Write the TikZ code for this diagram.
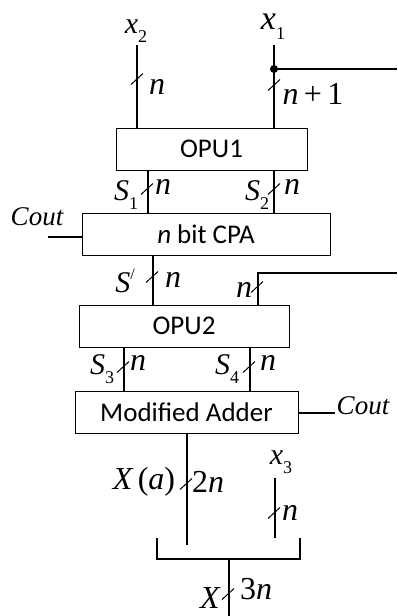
\documentclass[tikz,border=0pt]{standalone}
\usepackage{fontspec}
\setmainfont{Liberation Serif}
\newfontfamily\boxfont{Carlito}
\tikzset{
  blk/.style={draw, line width=1pt, inner sep=0pt, minimum height=42, font=\boxfont\fontsize{27}{30}\selectfont},
  wire/.style={line width=1.2pt},
  lab/.style={inner sep=0pt, font=\fontsize{32}{34}\selectfont\itshape},
  slab/.style={inner sep=0pt, font=\fontsize{30}{32}\selectfont\itshape},
  xlab/.style={inner sep=0pt, font=\fontsize{34}{36}\selectfont\itshape},
  clab/.style={inner sep=0pt, font=\fontsize{27}{29}\selectfont\itshape},
  bus/.style={line width=1pt}
}
\newcommand\busmark[1]{\draw[bus] (#1) ++(-6,-5.5) -- ++(12,11);}
\newcommand\sub[1]{\raisebox{-0.3em}{\fontsize{18}{18}\selectfont\upshape #1}}
\begin{document}
\begin{tikzpicture}[x=1pt,y=1pt]
\useasboundingbox (0,0) rectangle (397,-616);
% blocks
\node[blk, minimum width=191] (opu1) at (211.5,-149) {OPU1};
\node[blk, minimum width=248] (cpa) at (206,-234) {\textit{n} bit CPA};
\node[blk, minimum width=210] (opu2) at (184,-326) {OPU2};
\node[blk, minimum width=223] (ma) at (186.5,-412) {Modified Adder};
% coordinates
\coordinate (x2t) at (137,-45);
\coordinate (x1t) at (274,-45);
\coordinate (dot) at (274,-69);
\coordinate (x1r) at (397,-69);
\coordinate (s1) at (148,0);
\coordinate (s2) at (274,0);
\coordinate (sp) at (153,0);
\coordinate (rin) at (397,-273);
\coordinate (rc) at (258,-273);
\coordinate (s3) at (124,0);
\coordinate (s4) at (250,0);
\coordinate (coutl) at (48,-237);
\coordinate (coutr) at (335,-413);
\coordinate (xa) at (187,-545);
\coordinate (x3t) at (275,-478);
\coordinate (x3b) at (275,-538);
\coordinate (bl) at (157,-538);
\coordinate (br) at (300,-538);
\coordinate (bbl) at (157,-559);
\coordinate (bbr) at (300,-559);
\coordinate (xo) at (229,-559);
\coordinate (xe) at (229,-616);
% wires
\draw[wire] (x2t) -- (x2t |- opu1.north);
\draw[wire] (x1t) -- (x1t |- opu1.north);
\draw[wire] (dot) -- (x1r);
\fill (dot) circle (4);
\draw[wire] (s1 |- opu1.south) -- (s1 |- cpa.north);
\draw[wire] (s2 |- opu1.south) -- (s2 |- cpa.north);
\draw[wire] (coutl) -- (coutl -| cpa.west);
\draw[wire] (sp |- cpa.south) -- (sp |- opu2.north);
\draw[wire] (rin) -- (rc) -- (rc |- opu2.north);
\draw[wire] (s3 |- opu2.south) -- (s3 |- ma.north);
\draw[wire] (s4 |- opu2.south) -- (s4 |- ma.north);
\draw[wire] (ma.east |- coutr) -- (coutr);
\draw[wire] (xa |- ma.south) -- (xa);
\draw[wire] (x3t) -- (x3b);
\draw[wire] (bl) -- (bbl) -- (bbr) -- (br);
\draw[wire] (xo) -- (xe);
% bus marks
\busmark{137,-79}
\busmark{274,-85}
\busmark{147,-189}
\busmark{274,-189}
\busmark{152,-277}
\busmark{257,-287}
\busmark{123,-367}
\busmark{249,-367}
\busmark{186,-484}
\busmark{274,-513}
\busmark{228,-594}
% labels
\node[slab] (lx2) at (136,-31) {x\sub{2}};
\node[xlab] (lx1) at (273,-27) {x\sub{1}};
\node[lab] (ln1) at (157,-87) {n};
\node[lab] (ln2) at (313,-94) {n\,{\upshape+\,1}};
\node[slab] (ls1) at (126,-195) {S\sub{1}};
\node[lab] (ln3) at (163,-187) {n};
\node[slab] (ls2) at (257,-195) {S\sub{2}};
\node[lab] (ln4) at (292,-187) {n};
\node[clab] (lc1) at (37,-217) {Cout};
\node[slab] (lsp) at (125,-281) {S\raisebox{0.45em}{\fontsize{16}{16}\selectfont\upshape /}};
\node[lab] (ln5) at (173,-280) {n};
\node[lab] (ln6) at (244,-290) {n};
\node[slab] (ls3) at (102,-369) {S\sub{3}};
\node[lab] (ln7) at (138,-363) {n};
\node[slab] (ls4) at (227,-369) {S\sub{4}};
\node[lab] (ln8) at (268,-363) {n};
\node[clab] (lc2) at (363,-406) {Cout};
\node[lab] (lxa) at (144,-482) {X\,{\upshape(}a{\upshape)}};
\node[lab] (l2n) at (208,-482) {{\upshape2}n};
\node[slab] (lx3) at (281,-462) {x\sub{3}};
\node[lab] (ln9) at (290,-513) {n};
\node[lab] (lX) at (210,-598) {X};
\node[lab] (l3n) at (256,-589) {{\upshape3}n};
\end{tikzpicture}
\end{document}
